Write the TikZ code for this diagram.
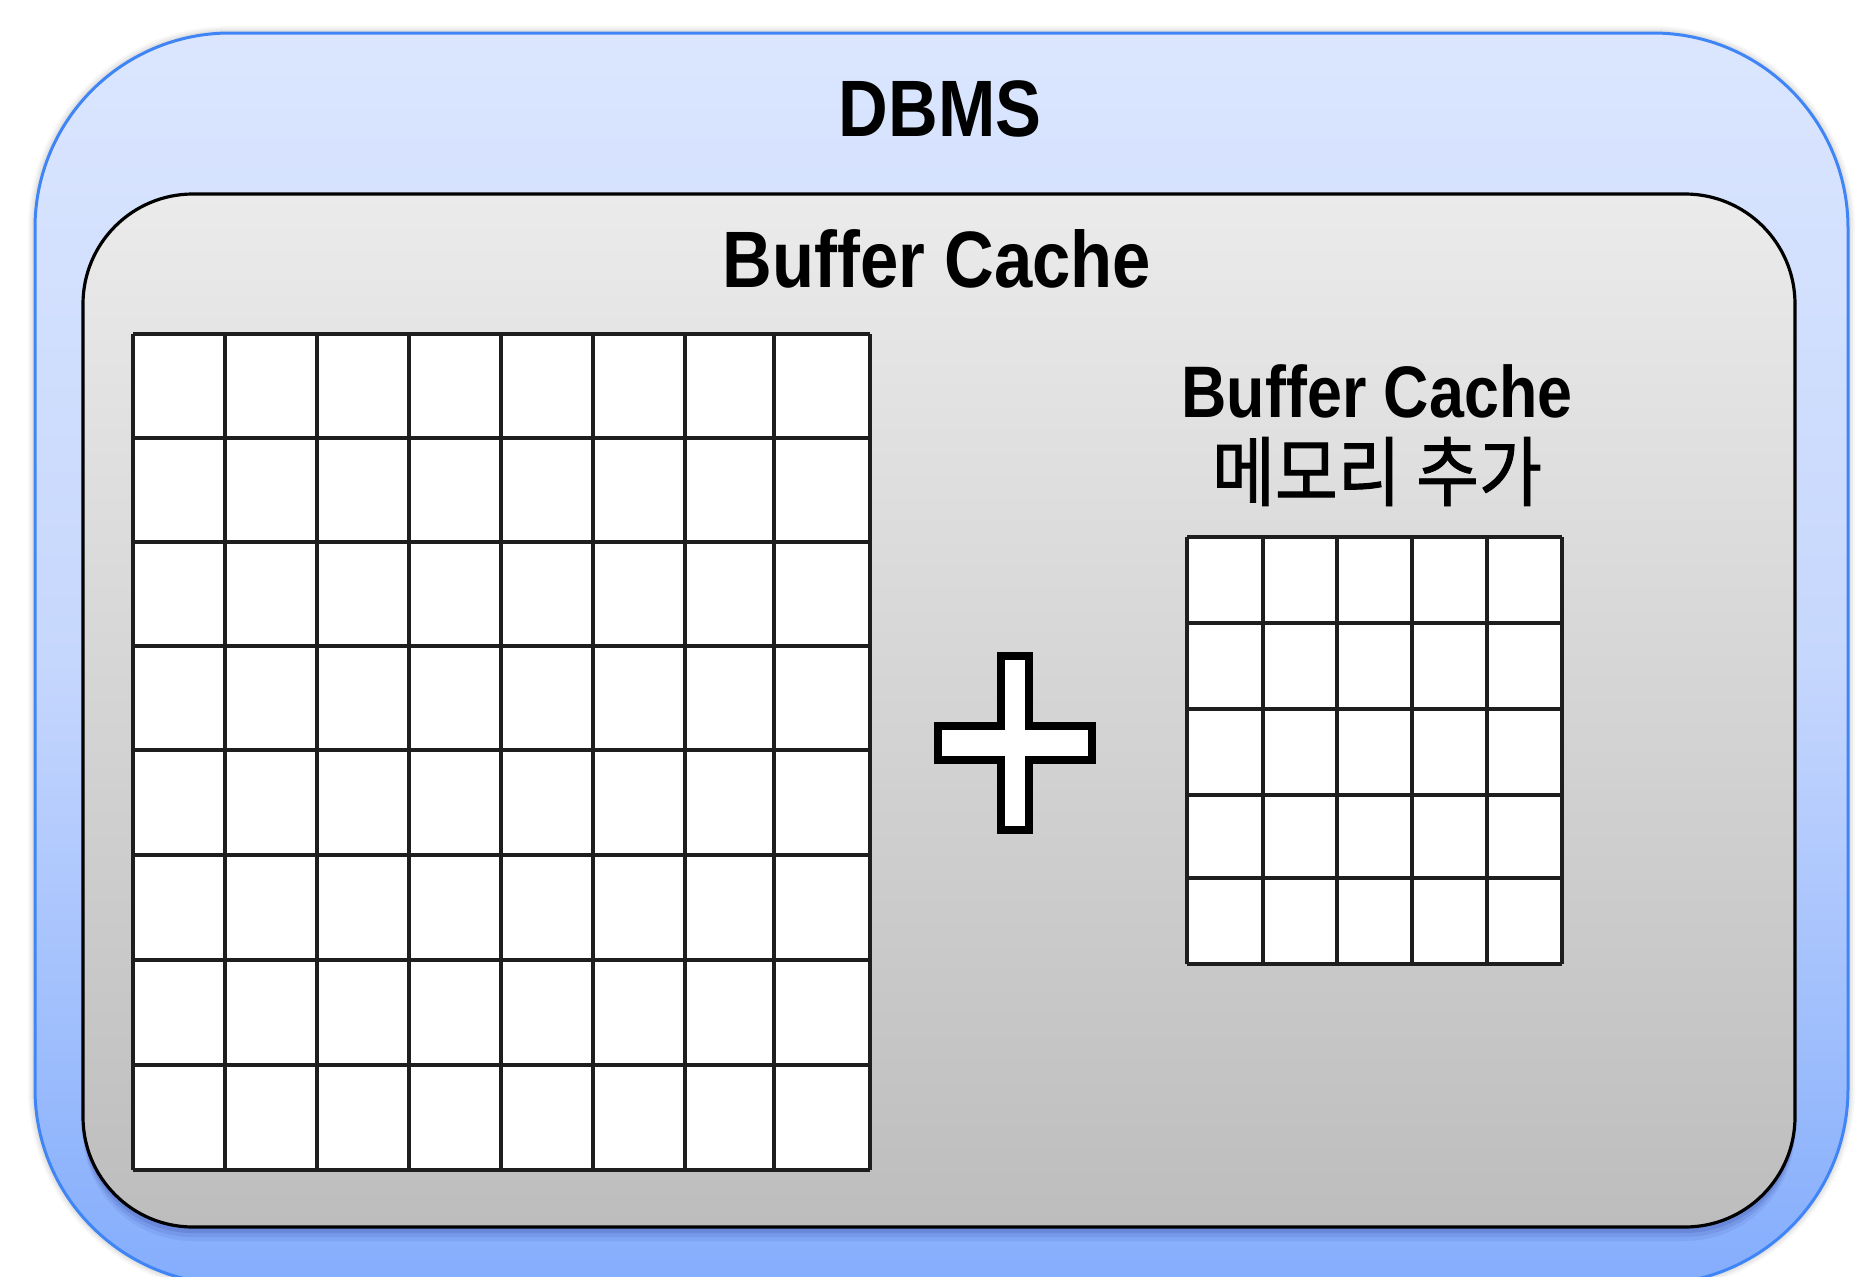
\documentclass[tikz,border=0pt]{standalone}
\usepackage{fontspec}
\newfontfamily\labfont{Liberation Sans}[FakeStretch=0.86]
\newfontfamily\krfont{Noto Sans CJK KR}[FakeStretch=0.9, FakeBold=1.2]
\definecolor{dbmsEdge}{HTML}{4085F5}
\definecolor{dbmsTop}{HTML}{DBE6FE}
\definecolor{dbmsMid}{HTML}{C6D7FD}
\definecolor{dbmsBot}{HTML}{84ADFC}
\definecolor{cacheTop}{HTML}{EBEBEB}
\definecolor{cacheBot}{HTML}{BDBDBD}
\definecolor{gridLine}{HTML}{1E1E1E}
\tikzset{
  outerbox/.style={draw=dbmsEdge, line width=3pt, rounded corners=195pt,
    top color=dbmsTop, bottom color=dbmsBot, middle color=dbmsMid},
  innerbox/.style={draw=black, line width=3.2pt, rounded corners=110pt,
    top color=cacheTop, bottom color=cacheBot},
  cell/.style={fill=white},
  gline/.style={draw=gridLine, line width=3.2pt},
  title/.style={font=\labfont\bfseries\fontsize{80}{90}\selectfont, inner sep=0pt, anchor=base},
  subtitle/.style={font=\labfont\bfseries\fontsize{73}{80}\selectfont, inner sep=0pt, anchor=base},
  krlabel/.style={font=\krfont\fontsize{76}{80}\selectfont, inner sep=0pt, anchor=base},
  plussign/.style={draw=black, fill=white, line width=8pt, line join=miter}
}
\begin{document}
\begin{tikzpicture}[x=1pt, y=-1pt]
\useasboundingbox (0,0) rectangle (1872,1277);
\clip (0,0) rectangle (1872,1277);

% soft shadow round the DBMS box
\foreach \w/\o in {14/0.03, 10/0.04, 6/0.05}
  \draw[black, opacity=\o, line width=\w pt, rounded corners=195pt]
    (35,33) rectangle (1848,1284);

% DBMS box
\path[outerbox] (35,33) rectangle (1848,1284);
\node[title] (dbms) at (940,136) {DBMS};

% shadow under the buffer cache box
\foreach \d/\o in {14/0.06, 10/0.08, 6/0.10}
  \fill[black!60!blue, opacity=\o, rounded corners=110pt]
    (83,194+\d) rectangle (1795,1227+\d);

% buffer cache box
\path[innerbox] (83,194) rectangle (1795,1227);
\node[title] (cache) at (937,287) {Buffer Cache};

% current buffer cache: 8 x 8 blocks
\fill[cell] (133,334) rectangle (870,1170);
\foreach \x in {133,225,317,409,501,593,685,774,870}
  \draw[gline] (\x,334) -- (\x,1170);
\foreach \y in {334,438,542,646,750,855,960,1065,1170}
  \draw[gline] (133,\y) -- (870,\y);

% plus sign
\draw[plussign] (938,726) -- (1001,726) -- (1001,656) -- (1029,656) -- (1029,726)
  -- (1092,726) -- (1092,760) -- (1029,760) -- (1029,830) -- (1001,830)
  -- (1001,760) -- (938,760) -- cycle;

% added memory
\node[subtitle] (addt) at (1377,417) {Buffer Cache};
\node[krlabel] (addk) at (1377,500) {메모리 추가};
\fill[cell] (1187,537) rectangle (1562,964);
\foreach \x in {1187,1263,1337,1412,1487,1562}
  \draw[gline] (\x,537) -- (\x,964);
\foreach \y in {537,623,709,795,878,964}
  \draw[gline] (1187,\y) -- (1562,\y);
\end{tikzpicture}
\end{document}
